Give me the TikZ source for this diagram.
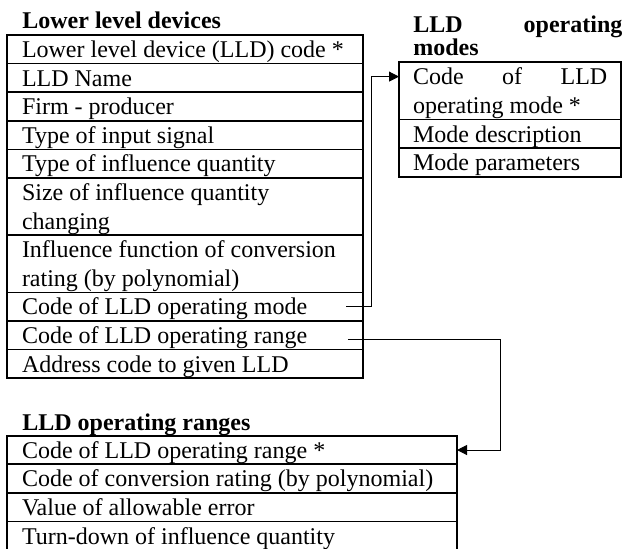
\documentclass[tikz,border=0pt]{standalone}
\usepackage{fontspec}
\setmainfont{Liberation Serif}
\usetikzlibrary{arrows.meta}
% row strut: fixes the height and depth of every table line and keeps
% the font's own interword space
\newcommand\cs{\spaceskip=0pt\xspaceskip=0pt\rule[-3.05pt]{0pt}{14.3pt}}
\begin{document}
\begin{tikzpicture}[x=0.5pt,y=-0.5pt,
  cell/.style={draw, line width=0.85pt, rectangle, anchor=north west,
    outer sep=0pt, inner ysep=0pt, inner xsep=7.5pt, align=left,
    font=\fontsize{12}{14.3}\selectfont},
  lldcell/.style={cell, text width=163pt},
  modecell/.style={cell, inner xsep=7pt, text width=97.15pt},
  rangecell/.style={cell, text width=210pt},
  title/.style={anchor=base west, inner sep=0pt,
    font=\bfseries\fontsize{12}{11.5}\selectfont},
  conn/.style={line width=0.5pt, -{Triangle[length=5pt,width=5pt]}}
]
\useasboundingbox (0,0) rectangle (624,548);
\clip (0,0) rectangle (624,548);

% Lower level devices
\node[title] (tdev) at (22,28.3) {Lower level devices};
\node[lldcell] (d1) at (7,35) {\cs Lower level device (LLD) code~*\cs};
\node[lldcell] (d2) at (d1.south west) {\cs LLD Name\cs};
\node[lldcell] (d3) at (d2.south west) {\cs Firm - producer\cs};
\node[lldcell] (d4) at (d3.south west) {\cs Type of input signal\cs};
\node[lldcell] (d5) at (d4.south west) {\cs Type of influence quantity\cs};
\node[lldcell] (d6) at (d5.south west) {\cs Size of influence quantity\\ changing\cs};
\node[lldcell] (d7) at (d6.south west) {\cs Influence function of conversion\\ rating (by polynomial)\cs};
\node[lldcell] (d8) at (d7.south west) {\cs Code of LLD operating mode\cs};
\node[lldcell] (d9) at (d8.south west) {\cs Code of LLD operating range\cs};
\node[lldcell] (d10) at (d9.south west) {\cs Address code to given LLD\cs};

% LLD operating modes
\node[title, text width=104.5pt, align=justify] (tmode) at (413,32.7) {LLD operating\linebreak modes};
\node[modecell, align=justify] (m1) at (399,62.3) {\cs Code of LLD\linebreak operating mode *\cs};
\node[modecell] (m2) at (m1.south west) {\cs Mode description\cs};
\node[modecell] (m3) at (m2.south west) {\cs Mode parameters\cs};

% LLD operating ranges
\node[title] (trange) at (22,430) {LLD operating ranges};
\node[rangecell] (r1) at (7,435.7) {\cs Code of LLD operating range *\cs};
\node[rangecell] (r2) at (r1.south west) {\cs Code of conversion rating (by polynomial)\cs};
\node[rangecell] (r3) at (r2.south west) {\cs Value of allowable error\cs};
\node[rangecell] (r4) at (r3.south west) {\cs Turn-down of influence quantity\cs};

% links between the tables
\coordinate (m1in) at ([yshift=-7.15pt]m1.north west);
\draw[conn] ([xshift=-8.5pt]d8.east) -- ++(25.7,0) |- (m1in);
\draw[conn] ([xshift=-7.6pt,yshift=-2pt]d9.east) -- ++(152.2,0) |- (r1.east);
\end{tikzpicture}
\end{document}
